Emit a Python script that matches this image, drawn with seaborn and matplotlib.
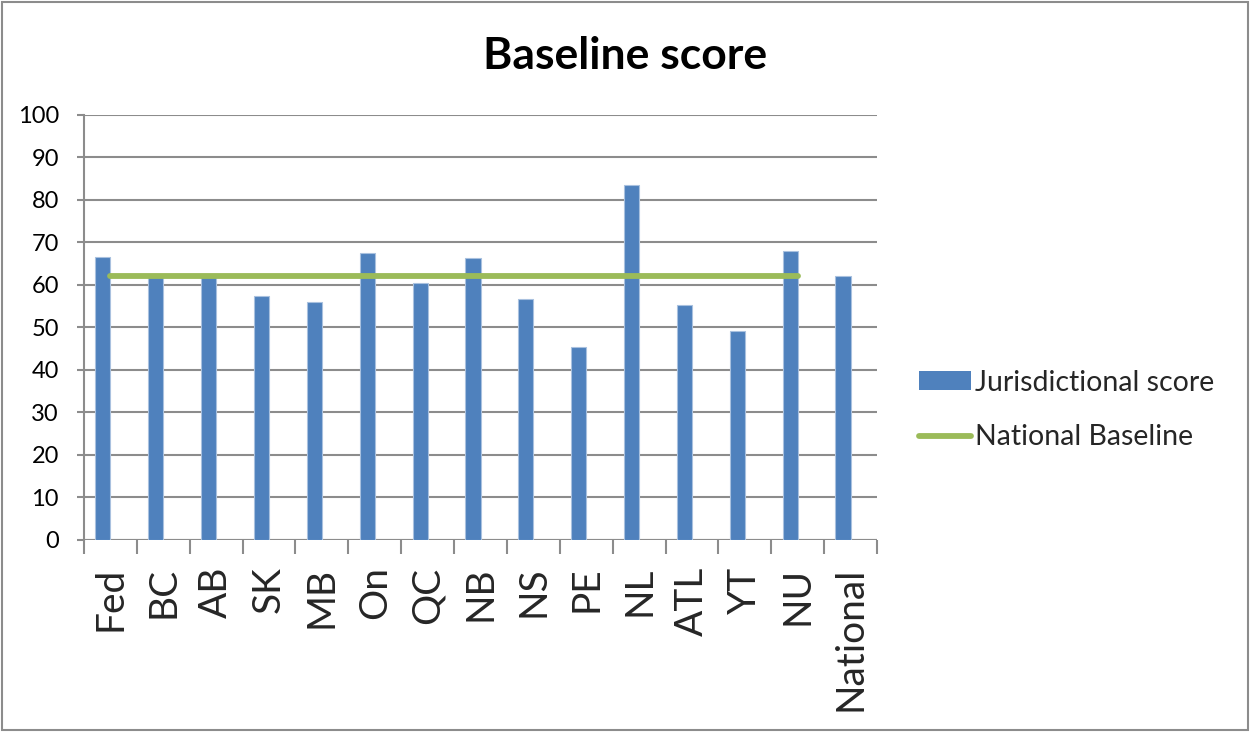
import matplotlib
matplotlib.use("Agg")
import matplotlib.pyplot as plt
import matplotlib.patches as mpatches
from matplotlib.lines import Line2D
import seaborn as sns
import pandas as pd

# Jurisdictions and their scores
jurisdictions = ["Fed", "BC", "AB", "SK", "MB", "On", "QC", "NB", "NS", "PE",
                 "NL", "ATL", "YT", "NU", "National"]
scores = [66.5, 61.8, 61.8, 57.3, 55.9, 67.5, 60.5, 66.3, 56.7, 45.3,
          83.6, 55.2, 49.2, 68.1, 62.0]

# National baseline, drawn across every jurisdiction except the national bar
baseline_jurisdictions = jurisdictions[:-1]
baseline_values = [62.0] * len(baseline_jurisdictions)

y_ticks = list(range(0, 101, 10))

BAR_BLUE = "#4F81BD"
LINE_GREEN = "#9BBB59"
GRID_GREY = "#8C8C8C"

sns.set_theme(style="white")
plt.rcParams["font.family"] = ["Lato", "DejaVu Sans"]

fig = plt.figure(figsize=(12.5, 7.32), dpi=100)
ax = fig.add_axes([0.0672, 0.2623, 0.6344, 0.5806])

# The bar series sits in the left slot of a two-slot cluster, the right slot
# belonging to the baseline series (which is drawn as a line instead)
bars_df = pd.DataFrame({"jurisdiction": jurisdictions, "score": scores,
                        "series": "Jurisdictional score"})
line_df = pd.DataFrame({"jurisdiction": baseline_jurisdictions,
                        "score": baseline_values})

sns.barplot(data=bars_df, x="jurisdiction", y="score", order=jurisdictions,
            hue="series",
            hue_order=["Jurisdictional score", "National Baseline"],
            palette={"Jurisdictional score": BAR_BLUE,
                     "National Baseline": LINE_GREEN},
            dodge=True, saturation=1, width=0.57, legend=False,
            edgecolor="#A9C1DF", linewidth=0.8, ax=ax, zorder=3)

sns.pointplot(data=line_df, x="jurisdiction", y="score", order=jurisdictions,
              color=LINE_GREEN, markers="", errorbar=None, ax=ax,
              linewidth=4.2, zorder=4)
for ln in ax.lines:
    ln.set_solid_capstyle("round")

ax.set_xlim(-0.5, len(jurisdictions) - 0.5)
ax.set_ylim(0, 100)
ax.set_yticks(y_ticks)
ax.set_yticklabels([str(t) for t in y_ticks], fontsize=17)
ax.set_xticklabels(jurisdictions, rotation=90, fontsize=28, va="top")
ax.set_xlabel("")
ax.set_ylabel("")

# Horizontal gridlines
ax.yaxis.grid(True, color=GRID_GREY, linewidth=1.5, zorder=0)
ax.xaxis.grid(False)
ax.set_axisbelow(True)

for side in ["top", "right", "bottom"]:
    ax.spines[side].set_visible(False)
ax.spines["left"].set_color(GRID_GREY)
ax.spines["left"].set_linewidth(1.5)

# Category separator ticks below the axis
ax.axhline(0, color=GRID_GREY, linewidth=1.5, zorder=2)
ax.set_xticks([i - 0.5 for i in range(len(jurisdictions) + 1)], minor=True)
ax.tick_params(axis="x", which="major", length=0, pad=19)
ax.tick_params(axis="x", which="minor", bottom=True, length=10, width=1.5,
               color=GRID_GREY)
ax.tick_params(axis="y", left=True, length=5, width=1.5, color=GRID_GREY,
               pad=13, labelcolor="black")

fig.text(0.5, 0.923, "Baseline score", ha="center", va="center",
         fontsize=32, fontweight="bold", color="black")

handles = [
    mpatches.Patch(facecolor=BAR_BLUE, edgecolor="none",
                   label="Jurisdictional score"),
    Line2D([0], [0], color=LINE_GREEN, linewidth=4.2,
           solid_capstyle="round", label="National Baseline"),
]
fig.legend(handles=handles, loc="center left",
           bbox_to_anchor=(0.7235, 0.440), frameon=False, fontsize=20.5,
           handlelength=1.85, handleheight=0.62, handletextpad=0.12,
           labelspacing=1.0, borderpad=0.0)

# Outer chart border
fig.patches.append(mpatches.Rectangle((0.0016, 0.0027), 0.9968, 0.9946,
                                      transform=fig.transFigure,
                                      fill=False, edgecolor="#8C8C8C",
                                      linewidth=1.5))

fig.savefig("out.png", dpi=100, facecolor="white")
